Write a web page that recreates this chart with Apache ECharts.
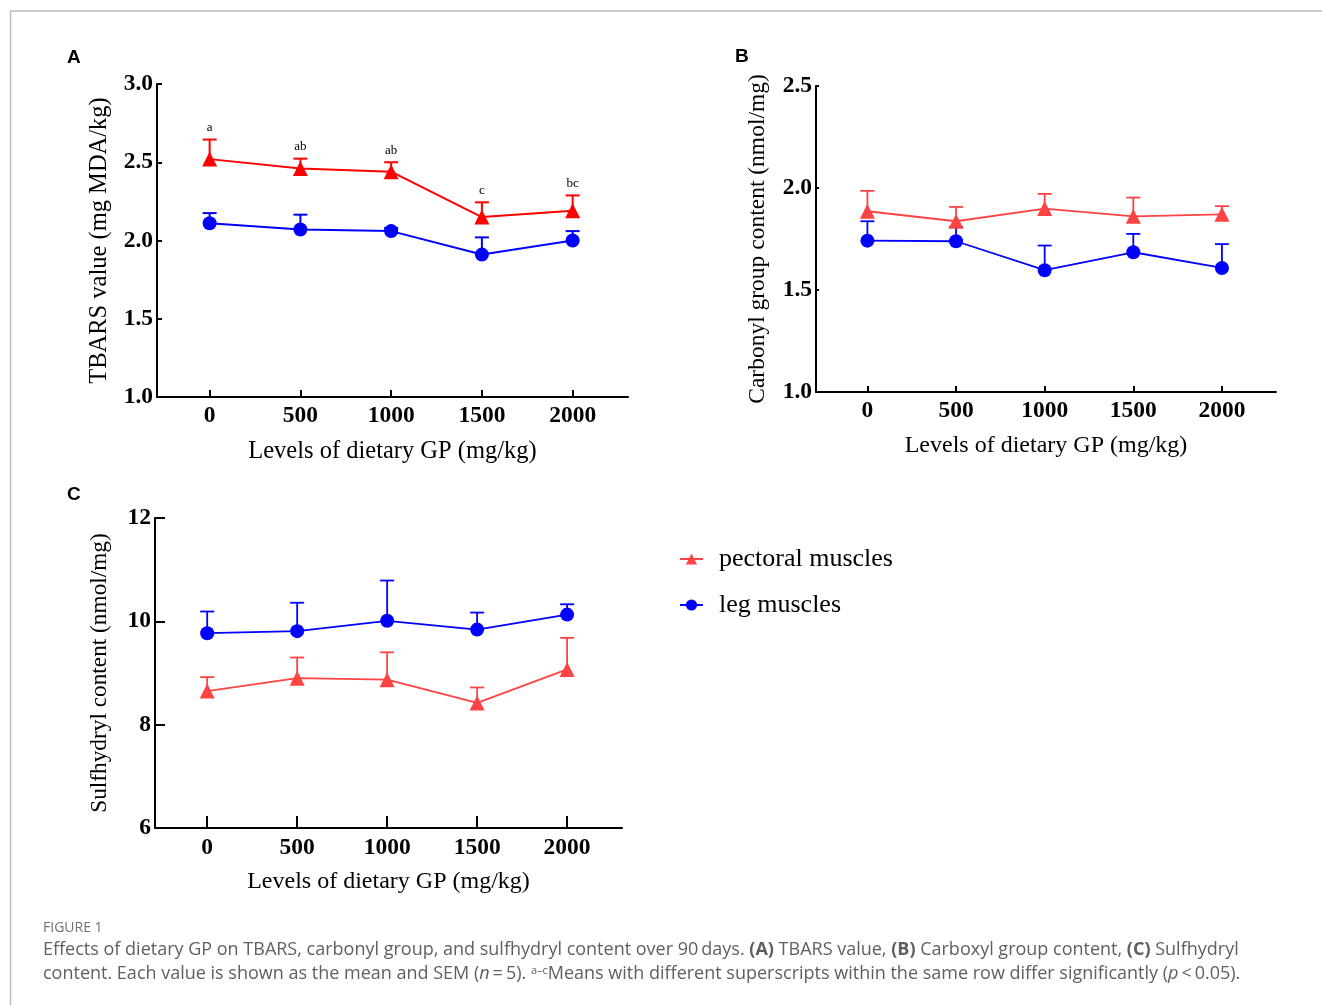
<!DOCTYPE html>
<html>
<head>
<meta charset="utf-8">
<script src="https://cdn.jsdelivr.net/npm/echarts@6/dist/echarts.min.js"></script>
<style>
html,body{margin:0;padding:0;background:#fff;}
#chart{width:1322px;height:1005px;}
</style>
</head>
<body>
<div id="chart"></div>
<script>
// ---- data ----
const doses = [0, 500, 1000, 1500, 2000];
const xTicks = [0, 500, 1000, 1500, 2000];

// Panel A: TBARS value (mg MDA/kg)
const tbarsPectMean = [2.52, 2.46, 2.44, 2.15, 2.19];
const tbarsPectSem  = [0.125, 0.063, 0.06, 0.094, 0.098];
const tbarsPectSig  = ['a', 'ab', 'ab', 'c', 'bc'];
const tbarsLegMean  = [2.11, 2.07, 2.06, 1.91, 2.00];
const tbarsLegSem   = [0.065, 0.095, 0.02, 0.11, 0.06];
const tbarsTicks = [1.0, 1.5, 2.0, 2.5, 3.0];

// Panel B: Carbonyl group content (nmol/mg)
const carbPectMean = [1.886, 1.837, 1.899, 1.861, 1.871];
const carbPectSem  = [0.10, 0.07, 0.072, 0.092, 0.04];
const carbLegMean  = [1.742, 1.739, 1.597, 1.685, 1.608];
const carbLegSem   = [0.095, 0.07, 0.121, 0.09, 0.117];
const carbTicks = [1.0, 1.5, 2.0, 2.5];

// Panel C: Sulfhydryl content (nmol/mg)
const sulfPectMean = [8.65, 8.90, 8.87, 8.42, 9.07];
const sulfPectSem  = [0.27, 0.40, 0.53, 0.30, 0.61];
const sulfLegMean  = [9.77, 9.81, 10.01, 9.84, 10.13];
const sulfLegSem   = [0.42, 0.55, 0.78, 0.33, 0.20];
const sulfTicks = [6, 8, 10, 12];

const seriesNames = ['pectoral muscles', 'leg muscles'];
const yTitles = ['TBARS value (mg MDA/kg)', 'Carbonyl group content (nmol/mg)', 'Sulfhydryl content (nmol/mg)'];
const xTitle = 'Levels of dietary GP (mg/kg)';
const panelLetters = ['A', 'B', 'C'];

// ---- styles ----
const RED_A = '#ff0000';
const RED = '#ff4343';
const BLUE = '#0000ff';
const SERIF = '"Liberation Serif", "Times New Roman", serif';
const CAP = '"Open Sans", Lato, sans-serif';
const CAPC = '#5f5f5f';

const grids = [
  {left: 157, top: 84, width: 471, height: 313},
  {left: 816, top: 86, width: 460, height: 306},
  {left: 155, top: 518, width: 467, height: 310}
];

function xAxis(i, tickLen, labelMargin, nameSize) {
  return {
    type: 'value', gridIndex: i, min: -290, max: 2305,
    name: xTitle, nameLocation: 'middle', nameGap: 42,
    nameTextStyle: {fontFamily: SERIF, fontSize: nameSize, color: '#000'},
    axisLine: {onZero: false, lineStyle: {color: '#000', width: 2}},
    axisTick: {show: true, inside: true, length: tickLen, lineStyle: {color: '#000', width: 2}, customValues: xTicks},
    axisLabel: {fontFamily: SERIF, fontWeight: 'bold', fontSize: 23.5, color: '#000', margin: labelMargin,
                customValues: xTicks, formatter: v => String(v)},
    splitLine: {show: false}
  };
}
function yAxis(i, ticks, fmt, tickLen, nameGap, nameSize) {
  return {
    type: 'value', gridIndex: i, min: ticks[0], max: ticks[ticks.length - 1],
    interval: ticks[1] - ticks[0],
    name: yTitles[i], nameLocation: 'middle', nameGap: nameGap,
    nameTextStyle: {fontFamily: SERIF, fontSize: nameSize, color: '#000'},
    axisLine: {show: true, onZero: false, lineStyle: {color: '#000', width: 2}},
    axisTick: {show: true, inside: true, length: tickLen, lineStyle: {color: '#000', width: 2}},
    axisLabel: {fontFamily: SERIF, fontWeight: 'bold', fontSize: 23.5, color: '#000', margin: 4, formatter: fmt},
    splitLine: {show: false}
  };
}

function lineSeries(name, idx, means, color, symbol, size, width) {
  return {
    type: 'line', name: name, xAxisIndex: idx, yAxisIndex: idx,
    data: doses.map((d, k) => [d, means[k]]),
    symbol: symbol, symbolSize: size, showSymbol: true,
    lineStyle: {color: color, width: width},
    itemStyle: {color: color},
    z: 4
  };
}
function errSeries(idx, means, sems, color, width) {
  return {
    type: 'custom', xAxisIndex: idx, yAxisIndex: idx,
    data: doses.map((d, k) => [d, means[k], means[k] + sems[k]]),
    renderItem: function (params, api) {
      const p1 = api.coord([api.value(0), api.value(1)]);
      const p2 = api.coord([api.value(0), api.value(2)]);
      const hw = 7;
      return {
        type: 'group',
        children: [
          {type: 'line', shape: {x1: p1[0], y1: p1[1], x2: p2[0], y2: p2[1]}, style: {stroke: color, lineWidth: width}},
          {type: 'line', shape: {x1: p2[0] - hw, y1: p2[1], x2: p2[0] + hw, y2: p2[1]}, style: {stroke: color, lineWidth: width}}
        ]
      };
    },
    z: 3, silent: true
  };
}
function sigSeries(idx, means, sems, letters) {
  return {
    type: 'custom', xAxisIndex: idx, yAxisIndex: idx,
    data: doses.map((d, k) => [d, means[k] + sems[k], k]),
    renderItem: function (params, api) {
      const p = api.coord([api.value(0), api.value(1)]);
      return {
        type: 'text',
        style: {text: letters[api.value(2)], x: p[0], y: p[1] - 12, align: 'center', verticalAlign: 'middle',
                font: '13px ' + SERIF, fill: '#000'}
      };
    },
    z: 5, silent: true
  };
}

const fmt1 = v => v.toFixed(1);
const fmt0 = v => String(v);

const option = {
  animation: false,
  backgroundColor: '#fff',
  grid: grids.map(g => Object.assign({containLabel: false}, g)),
  xAxis: [xAxis(0, 7, 7, 24.5), xAxis(1, 6, 7, 24), xAxis(2, 12, 8, 24)],
  yAxis: [yAxis(0, tbarsTicks, fmt1, 5, 45, 24.5), yAxis(1, carbTicks, fmt1, 3, 46, 23.5), yAxis(2, sulfTicks, fmt0, 10, 44, 23.3)],
  legend: {
    orient: 'vertical', left: 679, top: 546, itemGap: 20, padding: 0,
    itemWidth: 23, itemHeight: 14,
    textStyle: {fontFamily: SERIF, fontSize: 26, color: '#000', padding: [0, 0, 0, 11]},
    selectedMode: false,
    data: [
      {name: seriesNames[0], itemStyle: {color: RED}, lineStyle: {color: RED, width: 2}},
      {name: seriesNames[1], itemStyle: {color: BLUE}, lineStyle: {color: BLUE, width: 2}}
    ]
  },
  series: [
    lineSeries(seriesNames[1], 0, tbarsLegMean, BLUE, 'circle', 14, 2),
    lineSeries(seriesNames[0], 0, tbarsPectMean, RED_A, 'triangle', 15, 2),
    errSeries(0, tbarsPectMean, tbarsPectSem, RED_A, 2),
    errSeries(0, tbarsLegMean, tbarsLegSem, BLUE, 2),
    sigSeries(0, tbarsPectMean, tbarsPectSem, tbarsPectSig),

    lineSeries(seriesNames[1], 1, carbLegMean, BLUE, 'circle', 14, 1.8),
    lineSeries(seriesNames[0], 1, carbPectMean, RED, 'triangle', 15, 1.8),
    errSeries(1, carbPectMean, carbPectSem, RED, 1.8),
    errSeries(1, carbLegMean, carbLegSem, BLUE, 1.8),

    lineSeries(seriesNames[1], 2, sulfLegMean, BLUE, 'circle', 14, 1.8),
    lineSeries(seriesNames[0], 2, sulfPectMean, RED, 'triangle', 15, 1.8),
    errSeries(2, sulfPectMean, sulfPectSem, RED, 1.8),
    errSeries(2, sulfLegMean, sulfLegSem, BLUE, 1.8)
  ],
  graphic: [
    {type: 'line', shape: {x1: 10, y1: 11, x2: 1322, y2: 11}, style: {stroke: '#bdbdbd', lineWidth: 1.5}},
    {type: 'line', shape: {x1: 10.5, y1: 11, x2: 10.5, y2: 1005}, style: {stroke: '#bdbdbd', lineWidth: 1.5}},
    {type: 'text', left: 67, top: 48, style: {text: panelLetters[0], font: 'bold 19px "Liberation Sans", Arial, sans-serif', fill: '#000'}},
    {type: 'text', left: 735, top: 47, style: {text: panelLetters[1], font: 'bold 19px "Liberation Sans", Arial, sans-serif', fill: '#000'}},
    {type: 'text', left: 67, top: 485, style: {text: panelLetters[2], font: 'bold 19px "Liberation Sans", Arial, sans-serif', fill: '#000'}},
    {type: 'text', left: 43, top: 921, style: {text: 'FIGURE 1', font: '14px ' + CAP, fill: '#707070'}},
    {type: 'text', left: 43, top: 941, style: {
      text: '{n|Effects of dietary GP on TBARS, carbonyl group, and sulfhydryl content over 90\u2009days. }{b|(A)}{n| TBARS value, }{b|(B)}{n| Carboxyl group content, }{b|(C)}{n| Sulfhydryl}',
      rich: {
        n: {fontFamily: CAP, fontSize: 18, fill: CAPC},
        b: {fontFamily: CAP, fontSize: 18, fontWeight: 'bold', fill: CAPC}
      }
    }},
    {type: 'text', left: 43, top: 965, style: {
      text: '{n|content. Each value is shown as the mean and SEM (}{i|n}{n|\u2009=\u20095). }{s|a\u2013c}{n|Means with different superscripts within the same row differ significantly (}{i|p}{n|\u2009<\u20090.05).}',
      rich: {
        n: {fontFamily: CAP, fontSize: 18, fill: CAPC},
        i: {fontFamily: CAP, fontSize: 18, fontStyle: 'italic', fill: CAPC},
        s: {fontFamily: CAP, fontSize: 11, fill: CAPC, verticalAlign: 'top', padding: [0, 0, 7, 0]}
      }
    }}
  ]
};

const chart = echarts.init(document.getElementById('chart'), null, {renderer: 'canvas'});
chart.setOption(option);
</script>
</body>
</html>
